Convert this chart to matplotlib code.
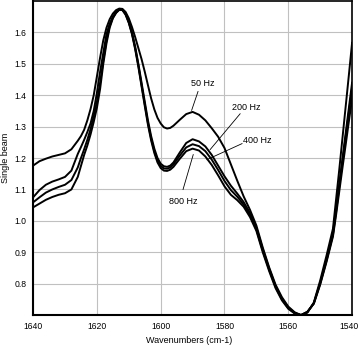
import matplotlib
matplotlib.use('Agg')
import matplotlib.pyplot as plt
import matplotlib.transforms as mtransforms

plt.rcParams['font.family'] = ['Liberation Sans', 'DejaVu Sans']

# wavenumbers (cm-1) shared by all series
wn = ([1640, 1638, 1636, 1634, 1632, 1630, 1628, 1626]
      + list(range(1625, 1595, -1))
      + list(range(1594, 1545, -2))
      + [1545, 1544, 1543, 1542, 1541, 1540])

hz50 = [1.176, 1.19, 1.198, 1.205, 1.21, 1.215, 1.228, 1.255,
        1.27, 1.29, 1.32, 1.356, 1.40, 1.46, 1.52, 1.575, 1.615, 1.642,
        1.66, 1.671, 1.676, 1.675, 1.665, 1.645, 1.617, 1.585, 1.55, 1.515,
        1.475, 1.432, 1.39, 1.355, 1.328, 1.31, 1.298, 1.294, 1.296, 1.303,
        1.322, 1.34, 1.347, 1.338, 1.32, 1.295, 1.268, 1.232, 1.18, 1.128,
        1.078, 1.035, 0.985, 0.915, 0.852, 0.797, 0.757, 0.727, 0.709, 0.70,
        0.708, 0.74, 0.81, 0.89, 0.975,
        1.07, 1.165, 1.265, 1.365, 1.465, 1.567]

hz200 = [1.075, 1.098, 1.115, 1.125, 1.132, 1.14, 1.16, 1.213,
         1.235, 1.258, 1.283, 1.31, 1.35, 1.408, 1.475, 1.535, 1.595, 1.628,
         1.65, 1.665, 1.674, 1.673, 1.66, 1.635, 1.60, 1.555, 1.50, 1.44,
         1.38, 1.32, 1.27, 1.23, 1.20, 1.182, 1.174, 1.172, 1.176, 1.186,
         1.218, 1.248, 1.26, 1.253, 1.237, 1.21, 1.176, 1.142, 1.112, 1.087,
         1.06, 1.025, 0.978, 0.91, 0.848, 0.793, 0.753, 0.724, 0.707, 0.70,
         0.709, 0.738, 0.803, 0.878, 0.96,
         1.04, 1.12, 1.20, 1.28, 1.36, 1.44]

hz400 = [1.059, 1.075, 1.09, 1.10, 1.108, 1.115, 1.13, 1.17,
         1.20, 1.228, 1.258, 1.292, 1.333, 1.38, 1.44, 1.51, 1.575, 1.62,
         1.647, 1.663, 1.673, 1.672, 1.658, 1.632, 1.597, 1.55, 1.495, 1.433,
         1.372, 1.312, 1.262, 1.222, 1.192, 1.175, 1.167, 1.166, 1.17, 1.18,
         1.208, 1.234, 1.244, 1.238, 1.222, 1.195, 1.162, 1.127, 1.098, 1.077,
         1.052, 1.018, 0.973, 0.905, 0.845, 0.79, 0.75, 0.722, 0.706, 0.70,
         0.71, 0.737, 0.80, 0.874, 0.955,
         1.03, 1.11, 1.19, 1.268, 1.346, 1.424]

hz800 = [1.043, 1.055, 1.067, 1.076, 1.083, 1.088, 1.10, 1.14,
         1.175, 1.21, 1.24, 1.275, 1.315, 1.36, 1.42, 1.50, 1.565, 1.615,
         1.645, 1.662, 1.672, 1.671, 1.656, 1.63, 1.594, 1.546, 1.49, 1.428,
         1.366, 1.306, 1.256, 1.216, 1.186, 1.168, 1.16, 1.159, 1.163, 1.172,
         1.198, 1.222, 1.23, 1.224, 1.205, 1.178, 1.145, 1.11, 1.083, 1.066,
         1.045, 1.012, 0.968, 0.90, 0.84, 0.786, 0.747, 0.72, 0.705, 0.70,
         0.711, 0.736, 0.797, 0.87, 0.95,
         1.02, 1.095, 1.17, 1.243, 1.317, 1.39]

xticks = [1640, 1620, 1600, 1580, 1560, 1540]
yticks = [0.8, 0.9, 1.0, 1.1, 1.2, 1.3, 1.4, 1.5, 1.6]

# label text position, leader start, leader end
etiquetas = [
    ('50 Hz', (1586.7, 1.437), (1588.3, 1.412), (1590.3, 1.352)),
    ('200 Hz', (1573.2, 1.360), (1575.1, 1.341), (1584.5, 1.227)),
    ('400 Hz', (1569.8, 1.256), (1574.5, 1.246), (1585.5, 1.195)),
    ('800 Hz', (1593.0, 1.062), (1593.0, 1.100), (1589.8, 1.211)),
]

fig = plt.figure(figsize=(3.6, 3.47), dpi=100)
ax = fig.add_axes([0.092, 0.092, 0.886, 0.905])

for serie in [hz50, hz200, hz400, hz800]:
    ax.plot(wn, serie, color='black', lw=1.4, solid_joinstyle='round')

for texto, pos, ini, fin in etiquetas:
    ax.text(pos[0], pos[1], texto, fontsize=6.5, ha='center', va='center')
    ax.plot([ini[0], fin[0]], [ini[1], fin[1]], color='black', lw=0.6)

ax.set_xlim(1640, 1540)
ax.set_ylim(0.70, 1.70)
ax.set_xticks(xticks)
ax.set_yticks(yticks)
ax.set_xticklabels([str(v) for v in xticks], fontsize=6.2)
ax.set_yticklabels([f'{v:.1f}' for v in yticks], fontsize=6.2)
ax.tick_params(length=0)
ax.tick_params(axis='x', pad=5)
ax.tick_params(axis='y', pad=5)
ax.grid(True, color='#c0c0c0', lw=0.8)
ax.set_axisbelow(True)

# last x label sits at the right edge of the figure
ultima = ax.get_xticklabels()[-1]
ultima.set_transform(ultima.get_transform()
                     + mtransforms.ScaledTranslation(-3 / 100, 0, fig.dpi_scale_trans))

for lado in ['left', 'bottom']:
    ax.spines[lado].set_linewidth(1.5)
for lado in ['top', 'right']:
    ax.spines[lado].set_linewidth(1.2)

ax.set_xlabel('Wavenumbers (cm-1)', fontsize=6.5)
ax.set_ylabel('Single beam', fontsize=6.5)
ax.xaxis.set_label_coords(0.49, -0.068)
ax.yaxis.set_label_coords(-0.072, 0.5)

fig.savefig('out.png', dpi=100)
